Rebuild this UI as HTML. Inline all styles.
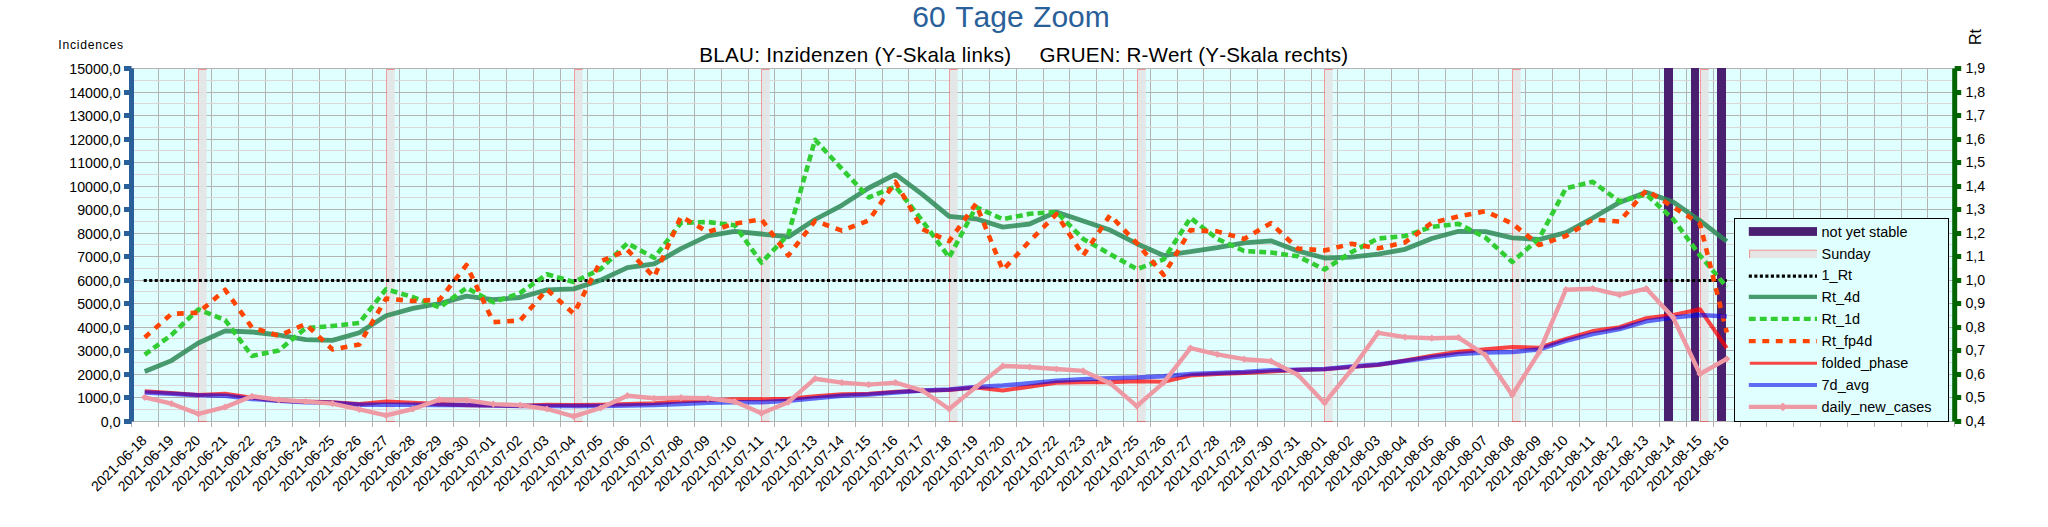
<!DOCTYPE html>
<html lang="de"><head><meta charset="utf-8"><title>60 Tage Zoom</title>
<style>html,body{margin:0;padding:0;background:#fff}svg{display:block}</style></head>
<body>
<svg width="2048" height="527" viewBox="0 0 2048 527" font-family="'Liberation Sans', Arial, sans-serif" style="font-kerning:none">
<rect width="2048" height="527" fill="#fff"/>
<rect x="131.0" y="68.0" width="1824.0" height="354.0" fill="#e0ffff"/>
<path d="M131.0 421.5H1955.0M131.0 397.5H1955.0M131.0 374.5H1955.0M131.0 350.5H1955.0M131.0 327.5H1955.0M131.0 303.5H1955.0M131.0 280.5H1955.0M131.0 256.5H1955.0M131.0 233.5H1955.0M131.0 209.5H1955.0M131.0 186.5H1955.0M131.0 162.5H1955.0M131.0 139.5H1955.0M131.0 115.5H1955.0M131.0 92.5H1955.0M131.0 68.5H1955.0M131.5 68.0V427.0M158.5 68.0V427.0M184.5 68.0V427.0M211.5 68.0V427.0M238.5 68.0V427.0M265.5 68.0V427.0M292.5 68.0V427.0M319.5 68.0V427.0M345.5 68.0V427.0M372.5 68.0V427.0M399.5 68.0V427.0M426.5 68.0V427.0M453.5 68.0V427.0M479.5 68.0V427.0M506.5 68.0V427.0M533.5 68.0V427.0M560.5 68.0V427.0M587.5 68.0V427.0M613.5 68.0V427.0M640.5 68.0V427.0M667.5 68.0V427.0M694.5 68.0V427.0M721.5 68.0V427.0M748.5 68.0V427.0M774.5 68.0V427.0M801.5 68.0V427.0M828.5 68.0V427.0M855.5 68.0V427.0M882.5 68.0V427.0M908.5 68.0V427.0M935.5 68.0V427.0M962.5 68.0V427.0M989.5 68.0V427.0M1016.5 68.0V427.0M1043.5 68.0V427.0M1069.5 68.0V427.0M1096.5 68.0V427.0M1123.5 68.0V427.0M1150.5 68.0V427.0M1177.5 68.0V427.0M1203.5 68.0V427.0M1230.5 68.0V427.0M1257.5 68.0V427.0M1284.5 68.0V427.0M1311.5 68.0V427.0M1337.5 68.0V427.0M1364.5 68.0V427.0M1391.5 68.0V427.0M1418.5 68.0V427.0M1445.5 68.0V427.0M1472.5 68.0V427.0M1498.5 68.0V427.0M1525.5 68.0V427.0M1552.5 68.0V427.0M1579.5 68.0V427.0M1606.5 68.0V427.0M1632.5 68.0V427.0M1659.5 68.0V427.0M1686.5 68.0V427.0M1713.5 68.0V427.0M1740.5 68.0V427.0M1766.5 68.0V427.0M1793.5 68.0V427.0M1820.5 68.0V427.0M1847.5 68.0V427.0M1874.5 68.0V427.0M1901.5 68.0V427.0M1927.5 68.0V427.0M1954.5 68.0V427.0" stroke="#b3b3b3" stroke-width="1" fill="none"/>
<path d="M131.0 409.5H1955.0M131.0 385.5H1955.0M131.0 362.5H1955.0M131.0 338.5H1955.0M131.0 315.5H1955.0M131.0 291.5H1955.0M131.0 268.5H1955.0M131.0 244.5H1955.0M131.0 221.5H1955.0M131.0 197.5H1955.0M131.0 174.5H1955.0M131.0 150.5H1955.0M131.0 127.5H1955.0M131.0 103.5H1955.0M131.0 80.5H1955.0" stroke="#dcd8d8" stroke-width="1" fill="none"/>
<rect x="199" y="69.0" width="7.7" height="353.0" fill="#e4e4e4" fill-opacity="0.9"/>
<path d="M198.5 422.0V69.5H206.7" stroke="#ff4a4a" stroke-opacity="0.55" stroke-width="1" fill="none"/>
<rect x="387" y="69.0" width="7.7" height="353.0" fill="#e4e4e4" fill-opacity="0.9"/>
<path d="M386.5 422.0V69.5H394.7" stroke="#ff4a4a" stroke-opacity="0.55" stroke-width="1" fill="none"/>
<rect x="575" y="69.0" width="7.7" height="353.0" fill="#e4e4e4" fill-opacity="0.9"/>
<path d="M574.5 422.0V69.5H582.7" stroke="#ff4a4a" stroke-opacity="0.55" stroke-width="1" fill="none"/>
<rect x="762" y="69.0" width="7.7" height="353.0" fill="#e4e4e4" fill-opacity="0.9"/>
<path d="M761.5 422.0V69.5H769.7" stroke="#ff4a4a" stroke-opacity="0.55" stroke-width="1" fill="none"/>
<rect x="950" y="69.0" width="7.7" height="353.0" fill="#e4e4e4" fill-opacity="0.9"/>
<path d="M949.5 422.0V69.5H957.7" stroke="#ff4a4a" stroke-opacity="0.55" stroke-width="1" fill="none"/>
<rect x="1138" y="69.0" width="7.7" height="353.0" fill="#e4e4e4" fill-opacity="0.9"/>
<path d="M1137.5 422.0V69.5H1145.7" stroke="#ff4a4a" stroke-opacity="0.55" stroke-width="1" fill="none"/>
<rect x="1325" y="69.0" width="7.7" height="353.0" fill="#e4e4e4" fill-opacity="0.9"/>
<path d="M1324.5 422.0V69.5H1332.7" stroke="#ff4a4a" stroke-opacity="0.55" stroke-width="1" fill="none"/>
<rect x="1513" y="69.0" width="7.7" height="353.0" fill="#e4e4e4" fill-opacity="0.9"/>
<path d="M1512.5 422.0V69.5H1520.7" stroke="#ff4a4a" stroke-opacity="0.55" stroke-width="1" fill="none"/>
<rect x="1701" y="69.0" width="7.7" height="353.0" fill="#e4e4e4" fill-opacity="0.9"/>
<path d="M1700.5 422.0V69.5H1708.7" stroke="#ff4a4a" stroke-opacity="0.55" stroke-width="1" fill="none"/>
<rect x="1664" y="68.0" width="9" height="353.0" fill="#4b1f6f"/>
<rect x="1691" y="68.0" width="8" height="353.0" fill="#4b1f6f"/>
<rect x="1717" y="68.0" width="9" height="353.0" fill="#4b1f6f"/>
<path d="M143.71 280.50H1726.77" stroke="#000" stroke-width="3" stroke-dasharray="3.1 2.41" fill="none"/>
<polyline points="144.71,371.5 171.53,360.6 198.34,343.0 225.16,330.9 251.97,332.0 278.79,335.0 305.60,339.7 332.41,340.4 359.23,332.8 386.04,315.8 412.86,308.4 439.67,303.5 466.49,296.1 493.30,299.6 520.12,297.5 546.93,289.9 573.75,288.9 600.56,280.1 627.38,267.6 654.19,263.9 681.00,248.6 707.82,235.9 734.63,231.4 761.45,234.0 788.26,236.9 815.08,219.5 841.89,205.3 868.71,188.0 895.52,174.3 922.34,194.3 949.15,216.3 975.96,218.8 1002.78,227.1 1029.59,224.0 1056.41,211.9 1083.22,221.0 1110.04,230.1 1136.85,243.7 1163.67,255.5 1190.48,251.6 1217.30,247.6 1244.11,242.8 1270.93,240.8 1297.74,250.9 1324.55,258.0 1351.37,257.1 1378.18,254.1 1405.00,249.3 1431.81,238.5 1458.63,231.3 1485.44,231.7 1512.26,237.9 1539.07,239.5 1565.89,232.6 1592.70,218.0 1619.52,202.4 1646.33,192.2 1673.14,202.0 1699.96,220.7 1726.77,241.4" stroke="#2e8b57" stroke-opacity="0.86" stroke-width="4.8" fill="none" stroke-linejoin="bevel"/>
<polyline points="144.71,354.7 171.53,334.8 198.34,309.4 225.16,320.1 251.97,355.9 278.79,350.4 305.60,328.2 332.41,326.0 359.23,323.0 386.04,289.2 412.86,297.1 439.67,307.4 466.49,287.9 493.30,302.2 520.12,293.0 546.93,274.2 573.75,282.0 600.56,269.2 627.38,243.2 654.19,257.8 681.00,222.8 707.82,222.0 734.63,225.2 761.45,262.7 788.26,234.6 815.08,139.8 841.89,168.9 868.71,197.5 895.52,186.4 922.34,220.8 949.15,257.4 975.96,207.1 1002.78,219.2 1029.59,213.8 1056.41,211.9 1083.22,238.9 1110.04,254.1 1136.85,269.1 1163.67,259.4 1190.48,217.9 1217.30,238.9 1244.11,251.0 1270.93,252.5 1297.74,256.3 1324.55,269.5 1351.37,252.2 1378.18,238.5 1405.00,236.0 1431.81,226.8 1458.63,223.9 1485.44,237.5 1512.26,262.0 1539.07,238.5 1565.89,188.3 1592.70,181.8 1619.52,201.4 1646.33,194.5 1673.14,219.0 1699.96,255.4 1726.77,287.1" stroke="#32cd32" stroke-width="4.6" stroke-dasharray="6.9 4.1" fill="none" stroke-linejoin="round"/>
<polyline points="144.71,337.4 171.53,313.9 198.34,312.7 225.16,289.8 251.97,327.5 278.79,335.7 305.60,324.0 332.41,349.4 359.23,344.5 386.04,298.6 412.86,301.0 439.67,299.6 466.49,265.0 493.30,322.1 520.12,320.5 546.93,289.5 573.75,313.7 600.56,261.4 627.38,249.9 654.19,277.1 681.00,216.4 707.82,232.0 734.63,223.6 761.45,219.3 788.26,255.5 815.08,220.9 841.89,230.6 868.71,220.5 895.52,181.8 922.34,229.2 949.15,241.2 975.96,203.7 1002.78,270.1 1029.59,241.2 1056.41,214.2 1083.22,255.5 1110.04,215.2 1136.85,243.2 1163.67,275.0 1190.48,230.1 1217.30,231.4 1244.11,238.9 1270.93,223.2 1297.74,248.6 1324.55,250.4 1351.37,243.8 1378.18,248.3 1405.00,242.4 1431.81,222.9 1458.63,216.4 1485.44,211.2 1512.26,223.5 1539.07,245.0 1565.89,236.0 1592.70,219.6 1619.52,221.5 1646.33,190.2 1673.14,207.0 1699.96,223.6 1726.77,332.5" stroke="#ff4500" stroke-width="4.6" stroke-dasharray="6.8 6.9" fill="none" stroke-linejoin="round"/>
<polyline points="144.71,391.4 171.53,393.0 198.34,395.0 225.16,393.8 251.97,397.7 278.79,400.8 305.60,401.6 332.41,402.2 359.23,404.1 386.04,401.6 412.86,402.8 439.67,404.1 466.49,405.1 493.30,405.5 520.12,405.7 546.93,404.7 573.75,405.1 600.56,404.7 627.38,404.1 654.19,403.2 681.00,401.2 707.82,400.2 734.63,399.3 761.45,399.3 788.26,398.9 815.08,396.3 841.89,394.4 868.71,393.8 895.52,391.8 922.34,390.7 949.15,389.9 975.96,387.5 1002.78,390.5 1029.59,386.6 1056.41,382.6 1083.22,382.1 1110.04,382.1 1136.85,381.3 1163.67,381.7 1190.48,375.4 1217.30,373.9 1244.11,372.9 1270.93,371.5 1297.74,369.9 1324.55,369.2 1351.37,367.0 1378.18,365.0 1405.00,360.5 1431.81,355.8 1458.63,351.9 1485.44,349.4 1512.26,347.0 1539.07,347.8 1565.89,338.9 1592.70,331.1 1619.52,327.2 1646.33,318.3 1673.14,314.9 1699.96,309.2 1726.77,348.2" stroke="#ff0000" stroke-opacity="0.725" stroke-width="4.1" fill="none" stroke-linejoin="round"/>
<polyline points="144.71,392.4 171.53,393.8 198.34,395.3 225.16,395.7 251.97,398.9 278.79,400.8 305.60,402.2 332.41,402.8 359.23,404.7 386.04,404.7 412.86,404.7 439.67,405.1 466.49,405.1 493.30,405.5 520.12,406.1 546.93,406.1 573.75,406.1 600.56,406.1 627.38,405.5 654.19,405.1 681.00,404.1 707.82,402.8 734.63,402.2 761.45,402.2 788.26,400.8 815.08,398.3 841.89,395.7 868.71,394.4 895.52,392.4 922.34,390.5 949.15,389.5 975.96,387.1 1002.78,385.6 1029.59,383.2 1056.41,380.7 1083.22,379.3 1110.04,378.2 1136.85,377.4 1163.67,376.2 1190.48,373.9 1217.30,372.9 1244.11,371.9 1270.93,370.3 1297.74,369.8 1324.55,368.9 1351.37,366.4 1378.18,364.4 1405.00,361.1 1431.81,357.2 1458.63,353.9 1485.44,352.6 1512.26,352.0 1539.07,349.4 1565.89,340.9 1592.70,334.1 1619.52,329.0 1646.33,321.3 1673.14,317.5 1699.96,315.0 1726.77,316.5" stroke="#0000ee" stroke-opacity="0.58" stroke-width="4.5" fill="none" stroke-linejoin="round"/>
<polyline points="144.71,397.3 171.53,403.7 198.34,413.9 225.16,407.1 251.97,396.3 278.79,399.8 305.60,401.6 332.41,403.6 359.23,409.4 386.04,415.3 412.86,409.0 439.67,399.6 466.49,400.2 493.30,404.1 520.12,405.1 546.93,409.0 573.75,416.4 600.56,408.0 627.38,395.7 654.19,398.3 681.00,397.7 707.82,398.3 734.63,401.6 761.45,413.3 788.26,402.2 815.08,378.7 841.89,382.6 868.71,384.6 895.52,382.6 922.34,390.5 949.15,409.0 975.96,387.1 1002.78,366.0 1029.59,367.0 1056.41,369.0 1083.22,370.9 1110.04,383.2 1136.85,406.1 1163.67,382.6 1190.48,348.1 1217.30,354.3 1244.11,359.2 1270.93,361.2 1297.74,374.8 1324.55,403.0 1351.37,369.9 1378.18,332.8 1405.00,337.1 1431.81,338.2 1458.63,337.6 1485.44,355.2 1512.26,395.0 1539.07,352.3 1565.89,289.7 1592.70,288.6 1619.52,294.8 1646.33,288.6 1673.14,317.5 1699.96,374.0 1726.77,358.9" stroke="#ee9aa4" stroke-width="4.4" fill="none" stroke-linejoin="round"/>
<path d="M141.11 397.3L144.71 393.7L148.31 397.3L144.71 400.9ZM167.93 403.7L171.53 400.1L175.13 403.7L171.53 407.3ZM194.74 413.9L198.34 410.3L201.94 413.9L198.34 417.5ZM221.56 407.1L225.16 403.5L228.76 407.1L225.16 410.7ZM248.37 396.3L251.97 392.7L255.57 396.3L251.97 399.9ZM275.19 399.8L278.79 396.2L282.39 399.8L278.79 403.4ZM302.00 401.6L305.60 398.0L309.20 401.6L305.60 405.2ZM328.81 403.6L332.41 400.0L336.01 403.6L332.41 407.2ZM355.63 409.4L359.23 405.8L362.83 409.4L359.23 413.0ZM382.44 415.3L386.04 411.7L389.64 415.3L386.04 418.9ZM409.26 409.0L412.86 405.4L416.46 409.0L412.86 412.6ZM436.07 399.6L439.67 396.0L443.27 399.6L439.67 403.2ZM462.89 400.2L466.49 396.6L470.09 400.2L466.49 403.8ZM489.70 404.1L493.30 400.5L496.90 404.1L493.30 407.7ZM516.52 405.1L520.12 401.5L523.72 405.1L520.12 408.7ZM543.33 409.0L546.93 405.4L550.53 409.0L546.93 412.6ZM570.15 416.4L573.75 412.8L577.35 416.4L573.75 420.0ZM596.96 408.0L600.56 404.4L604.16 408.0L600.56 411.6ZM623.78 395.7L627.38 392.1L630.98 395.7L627.38 399.3ZM650.59 398.3L654.19 394.7L657.79 398.3L654.19 401.9ZM677.40 397.7L681.00 394.1L684.60 397.7L681.00 401.3ZM704.22 398.3L707.82 394.7L711.42 398.3L707.82 401.9ZM731.03 401.6L734.63 398.0L738.23 401.6L734.63 405.2ZM757.85 413.3L761.45 409.7L765.05 413.3L761.45 416.9ZM784.66 402.2L788.26 398.6L791.86 402.2L788.26 405.8ZM811.48 378.7L815.08 375.1L818.68 378.7L815.08 382.3ZM838.29 382.6L841.89 379.0L845.49 382.6L841.89 386.2ZM865.11 384.6L868.71 381.0L872.31 384.6L868.71 388.2ZM891.92 382.6L895.52 379.0L899.12 382.6L895.52 386.2ZM918.74 390.5L922.34 386.9L925.94 390.5L922.34 394.1ZM945.55 409.0L949.15 405.4L952.75 409.0L949.15 412.6ZM972.36 387.1L975.96 383.5L979.56 387.1L975.96 390.7ZM999.18 366.0L1002.78 362.4L1006.38 366.0L1002.78 369.6ZM1025.99 367.0L1029.59 363.4L1033.19 367.0L1029.59 370.6ZM1052.81 369.0L1056.41 365.4L1060.01 369.0L1056.41 372.6ZM1079.62 370.9L1083.22 367.3L1086.82 370.9L1083.22 374.5ZM1106.44 383.2L1110.04 379.6L1113.64 383.2L1110.04 386.8ZM1133.25 406.1L1136.85 402.5L1140.45 406.1L1136.85 409.7ZM1160.07 382.6L1163.67 379.0L1167.27 382.6L1163.67 386.2ZM1186.88 348.1L1190.48 344.5L1194.08 348.1L1190.48 351.7ZM1213.70 354.3L1217.30 350.7L1220.90 354.3L1217.30 357.9ZM1240.51 359.2L1244.11 355.6L1247.71 359.2L1244.11 362.8ZM1267.33 361.2L1270.93 357.6L1274.53 361.2L1270.93 364.8ZM1294.14 374.8L1297.74 371.2L1301.34 374.8L1297.74 378.4ZM1320.95 403.0L1324.55 399.4L1328.15 403.0L1324.55 406.6ZM1347.77 369.9L1351.37 366.3L1354.97 369.9L1351.37 373.5ZM1374.58 332.8L1378.18 329.2L1381.78 332.8L1378.18 336.4ZM1401.40 337.1L1405.00 333.5L1408.60 337.1L1405.00 340.7ZM1428.21 338.2L1431.81 334.6L1435.41 338.2L1431.81 341.8ZM1455.03 337.6L1458.63 334.0L1462.23 337.6L1458.63 341.2ZM1481.84 355.2L1485.44 351.6L1489.04 355.2L1485.44 358.8ZM1508.66 395.0L1512.26 391.4L1515.86 395.0L1512.26 398.6ZM1535.47 352.3L1539.07 348.7L1542.67 352.3L1539.07 355.9ZM1562.29 289.7L1565.89 286.1L1569.49 289.7L1565.89 293.3ZM1589.10 288.6L1592.70 285.0L1596.30 288.6L1592.70 292.2ZM1615.92 294.8L1619.52 291.2L1623.12 294.8L1619.52 298.4ZM1642.73 288.6L1646.33 285.0L1649.93 288.6L1646.33 292.2ZM1669.54 317.5L1673.14 313.9L1676.74 317.5L1673.14 321.1ZM1696.36 374.0L1699.96 370.4L1703.56 374.0L1699.96 377.6ZM1723.17 358.9L1726.77 355.3L1730.37 358.9L1726.77 362.5Z" fill="#ee9aa4"/>
<path d="M131.5 421.5H1954.7" stroke="#b3b3b3" stroke-width="1" fill="none"/>
<path d="M198 421.5H206.7M386 421.5H394.7M574 421.5H582.7M761 421.5H769.7M949 421.5H957.7M1137 421.5H1145.7M1324 421.5H1332.7M1512 421.5H1520.7M1700 421.5H1708.7" stroke="#ff3030" stroke-opacity="0.5" stroke-width="1" fill="none"/>
<path d="M131.5 68.5V421.5M124.0 421.5H131.5M124.0 397.5H131.5M124.0 374.5H131.5M124.0 350.5H131.5M124.0 327.5H131.5M124.0 303.5H131.5M124.0 280.5H131.5M124.0 256.5H131.5M124.0 233.5H131.5M124.0 209.5H131.5M124.0 186.5H131.5M124.0 162.5H131.5M124.0 139.5H131.5M124.0 115.5H131.5M124.0 92.5H131.5M124.0 68.5H131.5" stroke="#2a6099" stroke-width="5" fill="none"/>
<path d="M1954.7 68.5V421.5M1954.7 421.5H1961.2M1954.7 397.5H1961.2M1954.7 374.5H1961.2M1954.7 350.5H1961.2M1954.7 327.5H1961.2M1954.7 303.5H1961.2M1954.7 280.5H1961.2M1954.7 256.5H1961.2M1954.7 233.5H1961.2M1954.7 209.5H1961.2M1954.7 186.5H1961.2M1954.7 162.5H1961.2M1954.7 139.5H1961.2M1954.7 115.5H1961.2M1954.7 92.5H1961.2M1954.7 68.5H1961.2" stroke="#006400" stroke-width="5" fill="none"/>
<g font-size="14.2" fill="#000">
<text x="120.6" y="426.70" text-anchor="end">0,0</text>
<text x="1965.4" y="426.40">0,4</text>
<text x="120.6" y="402.70" text-anchor="end">1000,0</text>
<text x="1965.4" y="402.40">0,5</text>
<text x="120.6" y="379.70" text-anchor="end">2000,0</text>
<text x="1965.4" y="379.40">0,6</text>
<text x="120.6" y="355.70" text-anchor="end">3000,0</text>
<text x="1965.4" y="355.40">0,7</text>
<text x="120.6" y="332.70" text-anchor="end">4000,0</text>
<text x="1965.4" y="332.40">0,8</text>
<text x="120.6" y="308.70" text-anchor="end">5000,0</text>
<text x="1965.4" y="308.40">0,9</text>
<text x="120.6" y="285.70" text-anchor="end">6000,0</text>
<text x="1965.4" y="285.40">1,0</text>
<text x="120.6" y="261.70" text-anchor="end">7000,0</text>
<text x="1965.4" y="261.40">1,1</text>
<text x="120.6" y="238.70" text-anchor="end">8000,0</text>
<text x="1965.4" y="238.40">1,2</text>
<text x="120.6" y="214.70" text-anchor="end">9000,0</text>
<text x="1965.4" y="214.40">1,3</text>
<text x="120.6" y="191.70" text-anchor="end">10000,0</text>
<text x="1965.4" y="191.40">1,4</text>
<text x="120.6" y="167.70" text-anchor="end">11000,0</text>
<text x="1965.4" y="167.40">1,5</text>
<text x="120.6" y="144.70" text-anchor="end">12000,0</text>
<text x="1965.4" y="144.40">1,6</text>
<text x="120.6" y="120.70" text-anchor="end">13000,0</text>
<text x="1965.4" y="120.40">1,7</text>
<text x="120.6" y="97.70" text-anchor="end">14000,0</text>
<text x="1965.4" y="97.40">1,8</text>
<text x="120.6" y="73.70" text-anchor="end">15000,0</text>
<text x="1965.4" y="73.40">1,9</text>
</g>
<g font-size="14.2" fill="#000" text-anchor="end" letter-spacing="-0.1">
<text transform="translate(147.61 441.6) rotate(-45)">2021-06-18</text>
<text transform="translate(174.43 441.6) rotate(-45)">2021-06-19</text>
<text transform="translate(201.24 441.6) rotate(-45)">2021-06-20</text>
<text transform="translate(228.06 441.6) rotate(-45)">2021-06-21</text>
<text transform="translate(254.87 441.6) rotate(-45)">2021-06-22</text>
<text transform="translate(281.69 441.6) rotate(-45)">2021-06-23</text>
<text transform="translate(308.50 441.6) rotate(-45)">2021-06-24</text>
<text transform="translate(335.31 441.6) rotate(-45)">2021-06-25</text>
<text transform="translate(362.13 441.6) rotate(-45)">2021-06-26</text>
<text transform="translate(388.94 441.6) rotate(-45)">2021-06-27</text>
<text transform="translate(415.76 441.6) rotate(-45)">2021-06-28</text>
<text transform="translate(442.57 441.6) rotate(-45)">2021-06-29</text>
<text transform="translate(469.39 441.6) rotate(-45)">2021-06-30</text>
<text transform="translate(496.20 441.6) rotate(-45)">2021-07-01</text>
<text transform="translate(523.02 441.6) rotate(-45)">2021-07-02</text>
<text transform="translate(549.83 441.6) rotate(-45)">2021-07-03</text>
<text transform="translate(576.65 441.6) rotate(-45)">2021-07-04</text>
<text transform="translate(603.46 441.6) rotate(-45)">2021-07-05</text>
<text transform="translate(630.28 441.6) rotate(-45)">2021-07-06</text>
<text transform="translate(657.09 441.6) rotate(-45)">2021-07-07</text>
<text transform="translate(683.90 441.6) rotate(-45)">2021-07-08</text>
<text transform="translate(710.72 441.6) rotate(-45)">2021-07-09</text>
<text transform="translate(737.53 441.6) rotate(-45)">2021-07-10</text>
<text transform="translate(764.35 441.6) rotate(-45)">2021-07-11</text>
<text transform="translate(791.16 441.6) rotate(-45)">2021-07-12</text>
<text transform="translate(817.98 441.6) rotate(-45)">2021-07-13</text>
<text transform="translate(844.79 441.6) rotate(-45)">2021-07-14</text>
<text transform="translate(871.61 441.6) rotate(-45)">2021-07-15</text>
<text transform="translate(898.42 441.6) rotate(-45)">2021-07-16</text>
<text transform="translate(925.24 441.6) rotate(-45)">2021-07-17</text>
<text transform="translate(952.05 441.6) rotate(-45)">2021-07-18</text>
<text transform="translate(978.86 441.6) rotate(-45)">2021-07-19</text>
<text transform="translate(1005.68 441.6) rotate(-45)">2021-07-20</text>
<text transform="translate(1032.49 441.6) rotate(-45)">2021-07-21</text>
<text transform="translate(1059.31 441.6) rotate(-45)">2021-07-22</text>
<text transform="translate(1086.12 441.6) rotate(-45)">2021-07-23</text>
<text transform="translate(1112.94 441.6) rotate(-45)">2021-07-24</text>
<text transform="translate(1139.75 441.6) rotate(-45)">2021-07-25</text>
<text transform="translate(1166.57 441.6) rotate(-45)">2021-07-26</text>
<text transform="translate(1193.38 441.6) rotate(-45)">2021-07-27</text>
<text transform="translate(1220.20 441.6) rotate(-45)">2021-07-28</text>
<text transform="translate(1247.01 441.6) rotate(-45)">2021-07-29</text>
<text transform="translate(1273.83 441.6) rotate(-45)">2021-07-30</text>
<text transform="translate(1300.64 441.6) rotate(-45)">2021-07-31</text>
<text transform="translate(1327.45 441.6) rotate(-45)">2021-08-01</text>
<text transform="translate(1354.27 441.6) rotate(-45)">2021-08-02</text>
<text transform="translate(1381.08 441.6) rotate(-45)">2021-08-03</text>
<text transform="translate(1407.90 441.6) rotate(-45)">2021-08-04</text>
<text transform="translate(1434.71 441.6) rotate(-45)">2021-08-05</text>
<text transform="translate(1461.53 441.6) rotate(-45)">2021-08-06</text>
<text transform="translate(1488.34 441.6) rotate(-45)">2021-08-07</text>
<text transform="translate(1515.16 441.6) rotate(-45)">2021-08-08</text>
<text transform="translate(1541.97 441.6) rotate(-45)">2021-08-09</text>
<text transform="translate(1568.79 441.6) rotate(-45)">2021-08-10</text>
<text transform="translate(1595.60 441.6) rotate(-45)">2021-08-11</text>
<text transform="translate(1622.42 441.6) rotate(-45)">2021-08-12</text>
<text transform="translate(1649.23 441.6) rotate(-45)">2021-08-13</text>
<text transform="translate(1676.04 441.6) rotate(-45)">2021-08-14</text>
<text transform="translate(1702.86 441.6) rotate(-45)">2021-08-15</text>
<text transform="translate(1729.67 441.6) rotate(-45)">2021-08-16</text>
</g>
<text x="912.3" y="26.7" font-size="30" fill="#2a6099" word-spacing="1.2">60 Tage Zoom</text>
<text x="699.2" y="61.8" font-size="20.6" fill="#000" textLength="312" lengthAdjust="spacing">BLAU: Inzidenzen (Y-Skala links)</text>
<text x="1039.6" y="61.8" font-size="20.6" fill="#000" textLength="308.5" lengthAdjust="spacing">GRUEN: R-Wert (Y-Skala rechts)</text>
<text x="58.3" y="49.3" font-size="12.2" fill="#000" textLength="64.9" lengthAdjust="spacing">Incidences</text>
<text transform="translate(1981 45) rotate(-90)" font-size="16.1" fill="#000">Rt</text>
<rect x="1734.5" y="218.5" width="214" height="203" fill="#e0ffff" stroke="#000" stroke-width="1"/>
<rect x="1748.8" y="227.1" width="68.20000000000005" height="8.8" fill="#4b1f6f"/>
<rect x="1748.8" y="249.9" width="68.20000000000005" height="8.2" fill="#e6e0e0" fill-opacity="0.85"/>
<path d="M1749.6 258.1V250.20000000000002H1817.0" stroke="#ff5a5a" stroke-opacity="0.6" stroke-width="1" fill="none"/>
<path d="M1748.8 276.2H1817.0" stroke="#000" stroke-width="3.2" stroke-dasharray="3.1 2.41" fill="none"/>
<path d="M1748.8 296.9H1817.0" stroke="#2e8b57" stroke-opacity="0.86" stroke-width="4.2" fill="none"/>
<path d="M1748.8 318.8H1817.0" stroke="#32cd32" stroke-width="4.2" stroke-dasharray="6.9 4.1" fill="none"/>
<path d="M1748.8 341.1H1817.0" stroke="#ff4500" stroke-width="4.2" stroke-dasharray="6.9 6.6" fill="none"/>
<path d="M1749.8 363.3H1817.0" stroke="#ff0000" stroke-opacity="0.725" stroke-width="3" fill="none"/>
<path d="M1748.8 385.0H1817.0" stroke="#0000ee" stroke-opacity="0.58" stroke-width="3.8" fill="none"/>
<path d="M1748.8 406.9H1817.0" stroke="#ee9aa4" stroke-width="4.2" fill="none"/>
<path d="M1778.5 406.9L1782.9 402.5L1787.3000000000002 406.9L1782.9 411.29999999999995Z" fill="#ee9aa4"/>
<g font-size="14.45" fill="#000">
<text x="1821.6" y="236.6">not yet stable</text>
<text x="1821.6" y="258.5">Sunday</text>
<text x="1821.6" y="280.4">1_Rt</text>
<text x="1821.6" y="302.3">Rt_4d</text>
<text x="1821.6" y="324.2">Rt_1d</text>
<text x="1821.6" y="346.1">Rt_fp4d</text>
<text x="1821.6" y="368.0">folded_phase</text>
<text x="1821.6" y="389.9">7d_avg</text>
<text x="1821.6" y="411.8">daily_new_cases</text>
</g>
</svg>
</body></html>
